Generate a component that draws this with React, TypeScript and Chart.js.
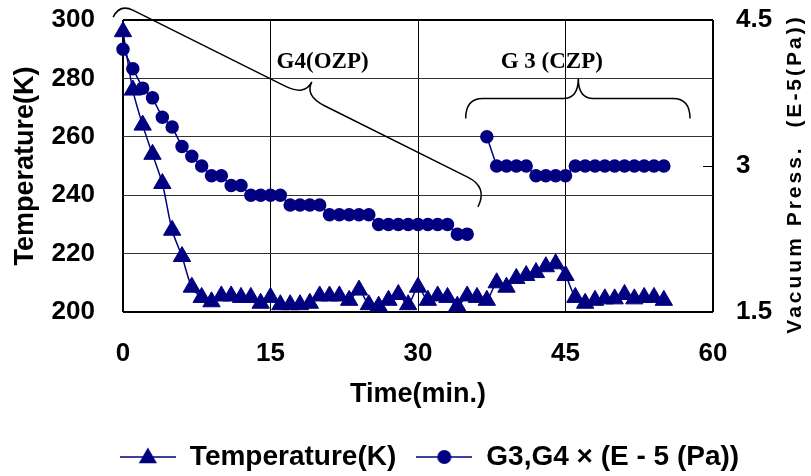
import React, { useEffect, useRef } from "react";
import { Chart, registerables } from "chart.js";

Chart.register(...registerables);

// ---------- data ----------
const minutes = [
  0, 1, 2, 3, 4, 5, 6, 7, 8, 9, 10, 11, 12, 13, 14, 15, 16, 17, 18, 19,
  20, 21, 22, 23, 24, 25, 26, 27, 28, 29, 30, 31, 32, 33, 34, 35, 36, 37, 38, 39,
  40, 41, 42, 43, 44, 45, 46, 47, 48, 49, 50, 51, 52, 53, 54, 55,
];

const temperatureK = [
  296, 276, 264, 254, 244, 228, 219, 208.5, 205, 203.5,
  205.5, 205.5, 205, 205, 203, 205, 202.5, 202.5, 202.5, 203,
  205.5, 205.5, 205.5, 204, 207.5, 202.5, 202, 204, 206, 202.5,
  208.5, 204, 205.5, 205, 202, 205.5, 205, 204, 210, 208.5,
  211.5, 212.5, 213.5, 215.5, 216.5, 212.5, 205, 203, 204, 204.5,
  204.5, 206, 204.5, 205, 205, 204,
];

// G3, G4 vacuum pressure, x E-5 Pa (null = no reading)
const vacuumE5Pa: (number | null)[] = [
  4.2, 4.0, 3.8, 3.7, 3.5, 3.4, 3.2, 3.1, 3.0, 2.9,
  2.9, 2.8, 2.8, 2.7, 2.7, 2.7, 2.7, 2.6, 2.6, 2.6,
  2.6, 2.5, 2.5, 2.5, 2.5, 2.5, 2.4, 2.4, 2.4, 2.4,
  2.4, 2.4, 2.4, 2.4, 2.3, 2.3, null, 3.3, 3.0, 3.0,
  3.0, 3.0, 2.9, 2.9, 2.9, 2.9, 3.0, 3.0, 3.0, 3.0,
  3.0, 3.0, 3.0, 3.0, 3.0, 3.0,
];

const timeTicks = [0, 15, 30, 45, 60];
const temperatureTicks = [200, 220, 240, 260, 280, 300];
const pressureTicks = [1.5, 3, 4.5];

const seriesLabels = ["Temperature(K)", "G3,G4 × (E - 5 (Pa))"];
const xTitle = "Time(min.)";
const yTitle = "Temperature(K)";
const y2Title = "Vacuum Press.  (E-5(Pa))";

// annotation braces (data coordinates: [minute, kelvin])
const g4Text = "G4(OZP)";
const g4TextAt = [20.3, 285.6];
const g4BraceEnds = [[-1.0, 301.0], [36.1, 236.0]];
const g4BraceTip = [19.2, 278.8];

const g3Text = "G 3 (CZP)";
const g3TextAt = [43.6, 285.7];
const g3BraceEnds = [[34.85, 266.3], [57.66, 266.3]];
const g3BraceTip = [46.3, 280.0];

// ---------- styling ----------
const NAVY = "#000080";
const SANS = '"Liberation Sans", Arial, sans-serif';
const SERIF = '"Liberation Serif", "Times New Roman", serif';

type P = { x: number; y: number };

function drawBrace(
  ctx: CanvasRenderingContext2D,
  A: P,
  B: P,
  tip: P,
  dA: number,
  dB: number,
  rA: number,
  rB: number,
  rT: number
) {
  let ux = B.x - A.x,
    uy = B.y - A.y;
  let L = Math.hypot(ux, uy);
  ux /= L;
  uy /= L;
  let nx = -uy,
    ny = ux;
  if ((tip.x - A.x) * nx + (tip.y - A.y) * ny < 0) {
    nx = -nx;
    ny = -ny;
  }
  let PA = { x: A.x + dA * nx, y: A.y + dA * ny };
  let PB = { x: B.x + dB * nx, y: B.y + dB * ny };
  ux = PB.x - PA.x;
  uy = PB.y - PA.y;
  L = Math.hypot(ux, uy);
  ux /= L;
  uy /= L;
  nx = -uy;
  ny = ux;
  if ((tip.x - A.x) * nx + (tip.y - A.y) * ny < 0) {
    nx = -nx;
    ny = -ny;
  }
  PA = { x: A.x + dA * nx, y: A.y + dA * ny };
  PB = { x: B.x + dB * nx, y: B.y + dB * ny };
  const s = (tip.x - PA.x) * ux + (tip.y - PA.y) * uy;
  const M = { x: PA.x + s * ux, y: PA.y + s * uy };
  ctx.beginPath();
  ctx.moveTo(A.x, A.y);
  ctx.quadraticCurveTo(PA.x, PA.y, PA.x + rA * ux, PA.y + rA * uy);
  ctx.lineTo(M.x - rT * ux, M.y - rT * uy);
  ctx.quadraticCurveTo(M.x, M.y, tip.x, tip.y);
  ctx.moveTo(B.x, B.y);
  ctx.quadraticCurveTo(PB.x, PB.y, PB.x - rB * ux, PB.y - rB * uy);
  ctx.lineTo(M.x + rT * ux, M.y + rT * uy);
  ctx.quadraticCurveTo(M.x, M.y, tip.x, tip.y);
  ctx.stroke();
}

function makeLegendImage(style: "triangle" | "circle"): HTMLCanvasElement {
  const c = document.createElement("canvas");
  c.width = 56;
  c.height = 26;
  const g = c.getContext("2d")!;
  g.strokeStyle = NAVY;
  g.fillStyle = NAVY;
  g.lineWidth = 1.5;
  g.beginPath();
  g.moveTo(0, 13);
  g.lineTo(56, 13);
  g.stroke();
  g.beginPath();
  if (style === "triangle") {
    const r = 10.5;
    const cx = 28,
      cy = 14;
    for (let k = 0; k < 3; k++) {
      const a = (k * 2 * Math.PI) / 3;
      const px = cx + Math.sin(a) * r;
      const py = cy - Math.cos(a) * r;
      if (k === 0) g.moveTo(px, py);
      else g.lineTo(px, py);
    }
    g.closePath();
  } else {
    g.arc(28, 13, 7, 0, Math.PI * 2);
  }
  g.fill();
  return c;
}

const annotationPlugin = {
  id: "bracesAndExtras",
  afterDraw(chart: any) {
    const { ctx, chartArea } = chart;
    const x = chart.scales.x;
    const y = chart.scales.y;
    const y2 = chart.scales.y2;
    const px = (p: number[]): P => ({ x: x.getPixelForValue(p[0]), y: y.getPixelForValue(p[1]) });

    ctx.save();
    ctx.strokeStyle = "#000";
    ctx.lineWidth = 1.5;
    drawBrace(ctx, px(g4BraceEnds[0]), px(g4BraceEnds[1]), px(g4BraceTip), 15, 22, 15, 22, 22);
    drawBrace(ctx, px(g3BraceEnds[0]), px(g3BraceEnds[1]), px(g3BraceTip), 20, 20, 17, 17, 15);

    ctx.fillStyle = "#000";
    ctx.textAlign = "center";
    ctx.textBaseline = "middle";
    ctx.font = `bold 23px ${SERIF}`;
    const t4 = px(g4TextAt);
    ctx.fillText(g4Text, t4.x, t4.y);
    const t3 = px(g3TextAt);
    ctx.fillText(g3Text, t3.x, t3.y);

    // small inner tick marks on the right axis
    ctx.lineWidth = 1;
    pressureTicks.slice(1, -1).forEach((v) => {
      const yy = Math.round(y2.getPixelForValue(v)) + 0.5;
      ctx.beginPath();
      ctx.moveTo(chartArea.right - 10, yy);
      ctx.lineTo(chartArea.right, yy);
      ctx.stroke();
    });

    // right axis title, reading bottom-to-top
    ctx.translate(chart.width - 16, (chartArea.top + chartArea.bottom) / 2 + 8);
    ctx.rotate(-Math.PI / 2);
    ctx.font = `bold 21px ${SANS}`;
    (ctx as any).letterSpacing = "3px";
    ctx.fillText(y2Title, 0, 0);
    ctx.restore();
  },
};

export default function App() {
  const ref = useRef<HTMLCanvasElement | null>(null);

  useEffect(() => {
    if (!ref.current) return;
    const legendImgs = [makeLegendImage("triangle"), makeLegendImage("circle")];

    const edgeWidth = (min: number, max: number) => (c: any) =>
      c.tick && (c.tick.value === min || c.tick.value === max) ? 2 : 1;

    const chart = new Chart(ref.current, {
      type: "line",
      data: {
        datasets: [
          {
            label: seriesLabels[0],
            data: minutes.map((m, i) => ({ x: m, y: temperatureK[i] })),
            yAxisID: "y",
            borderColor: NAVY,
            backgroundColor: NAVY,
            borderWidth: 1.5,
            pointStyle: "triangle",
            pointRadius: 10,
            pointBorderWidth: 1,
            tension: 0.3,
            clip: false as any,
          },
          {
            label: seriesLabels[1],
            data: minutes.map((m, i) => ({ x: m, y: vacuumE5Pa[i] })),
            yAxisID: "y2",
            borderColor: NAVY,
            backgroundColor: NAVY,
            borderWidth: 1.5,
            pointStyle: "circle",
            pointRadius: 6,
            pointBorderWidth: 1.5,
            tension: 0,
            spanGaps: false,
            clip: false as any,
          },
        ],
      },
      options: {
        animation: false,
        responsive: false,
        maintainAspectRatio: false,
        layout: { padding: { left: 48, right: 0, top: 20, bottom: -5 } },
        scales: {
          x: {
            type: "linear",
            min: 0,
            max: 60,
            afterBuildTicks: (s: any) => {
              s.ticks = timeTicks.map((v) => ({ value: v }));
            },
            afterFit: (s: any) => {
              s.height = 111;
            },
            grid: {
              color: "#000",
              lineWidth: edgeWidth(0, 60) as any,
              drawTicks: true,
              tickLength: 26,
              tickColor: "rgba(0,0,0,0)",
            },
            border: { display: false },
            ticks: {
              padding: 0,
              color: "#000",
              font: { family: SANS, size: 26, weight: "bold" },
              maxRotation: 0,
              autoSkip: false,
            },
            title: {
              display: true,
              text: xTitle,
              color: "#000",
              font: { family: SANS, size: 27, weight: "bold" },
              padding: { top: 0, bottom: 12 },
            },
          },
          y: {
            type: "linear",
            position: "left",
            min: 200,
            max: 300,
            afterBuildTicks: (s: any) => {
              s.ticks = temperatureTicks.map((v) => ({ value: v }));
            },
            afterFit: (s: any) => {
              s.width = 75;
            },
            grid: {
              color: (c: any) =>
                c.tick && (c.tick.value === 200 || c.tick.value === 300) ? "#000" : "#333",
              lineWidth: edgeWidth(200, 300) as any,
              drawTicks: true,
              tickLength: 28,
              tickColor: "rgba(0,0,0,0)",
            },
            border: { display: false },
            ticks: {
              padding: 0,
              color: "#000",
              font: { family: SANS, size: 26, weight: "bold" },
            },
            title: {
              display: true,
              text: yTitle,
              color: "#000",
              font: { family: SANS, size: 27, weight: "bold" },
              padding: { top: -39, bottom: 0 },
            },
          },
          y2: {
            type: "linear",
            position: "right",
            min: 1.5,
            max: 4.5,
            afterBuildTicks: (s: any) => {
              s.ticks = pressureTicks.map((v) => ({ value: v }));
            },
            afterFit: (s: any) => {
              s.width = 98;
            },
            grid: {
              drawOnChartArea: false,
              drawTicks: true,
              tickLength: 23,
              tickColor: "rgba(0,0,0,0)",
            },
            border: { display: false },
            ticks: {
              padding: 0,
              color: "#000",
              font: { family: SANS, size: 26, weight: "bold" },
              callback: (v: any) => String(v),
            },
          },
        },
        plugins: {
          tooltip: { enabled: false },
          legend: {
            position: "bottom",
            align: "center",
            labels: {
              usePointStyle: true,
              pointStyleWidth: 56,
              padding: 20,
              color: "#000",
              font: { family: SANS, size: 28, weight: "bold" },
              generateLabels: (ch: any) =>
                ch.data.datasets.map((ds: any, i: number) => ({
                  text: ds.label,
                  pointStyle: legendImgs[i],
                  fillStyle: NAVY,
                  strokeStyle: NAVY,
                  lineWidth: 0,
                  hidden: false,
                  datasetIndex: i,
                  fontColor: "#000",
                })),
            },
          },
        },
      } as any,
      plugins: [annotationPlugin],
    });
    return () => chart.destroy();
  }, []);

  return (
    <div
      style={{
        position: "fixed",
        left: 0,
        top: 0,
        width: 811,
        height: 476,
        background: "#fff",
      }}
    >
      <canvas ref={ref} width={811} height={476} style={{ display: "block" }} />
    </div>
  );
}
